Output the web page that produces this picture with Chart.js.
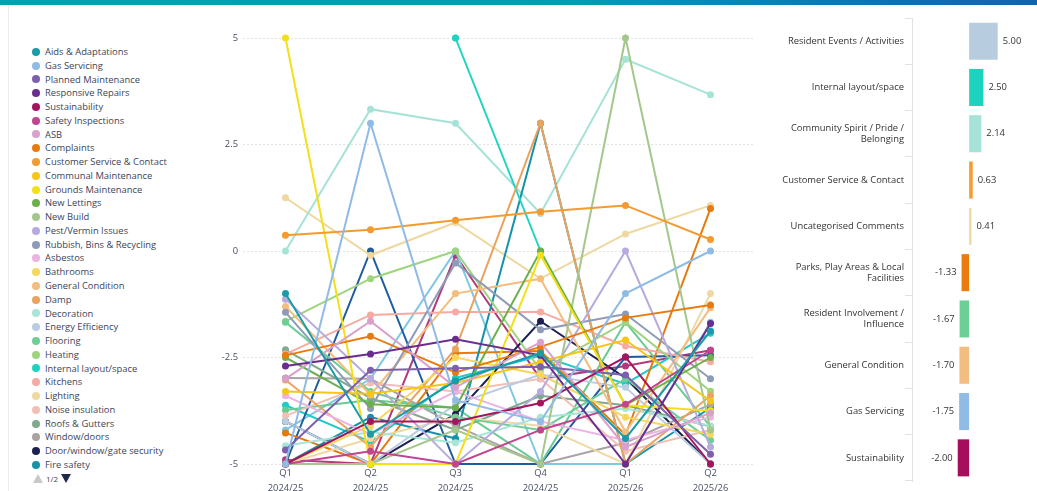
<!DOCTYPE html>
<html>
<head>
<meta charset="utf-8">
<script src="https://cdn.jsdelivr.net/npm/chart.js@4.4.1/dist/chart.umd.min.js"></script>
<style>
  body { margin: 0; width: 1037px; height: 491px; position: relative; overflow: hidden; background: #fff; font-family: 'Open Sans', sans-serif; }
  #topbar { position: absolute; left: 0; top: 0; width: 1037px; height: 5px; background: linear-gradient(to right, #00a4ae 0%, #009fb0 55%, #0b73b5 85%, #1960ad 100%); }
  #edge { position: absolute; left: 8px; top: 5px; width: 1px; height: 486px; background: #ececec; }
  #legend { position: absolute; left: 32px; top: 45px; width: 170px; }
  .leg-item { height: 13.77px; line-height: 13.77px; font-size: 9.4px; color: #3d4459; white-space: nowrap; display: flex; align-items: center; }
  .leg-dot { width: 8px; height: 8px; border-radius: 50%; margin-right: 5px; flex: none; }
  #pager { position: absolute; left: 33px; top: 473px; font-size: 8px; color: #3d4459; display: flex; align-items: center; }
  .tri-up { width: 0; height: 0; border-left: 5px solid transparent; border-right: 5px solid transparent; border-bottom: 9px solid #c9c9c9; margin-right: 3px; }
  .tri-down { width: 0; height: 0; border-left: 5px solid transparent; border-right: 5px solid transparent; border-top: 9px solid #1d2a4a; margin-left: 3px; }
  #lineWrap { position: absolute; left: 200px; top: 20px; }
  #barWrap { position: absolute; left: 760px; top: 0; }
</style>
</head>
<body>
<div id="topbar"></div>
<div id="edge"></div>
<div id="legend"></div>
<div id="pager"><div class="tri-up"></div><span>1/2</span><div class="tri-down"></div></div>
<div id="lineWrap"><canvas id="lineChart" width="557" height="471"></canvas></div>
<div id="barWrap"><canvas id="barChart" width="277" height="491"></canvas></div>

<script>
// quarters on the x axis
const quarters = [['Q1', '2024/25'], ['Q2', '2024/25'], ['Q3', '2024/25'], ['Q4', '2024/25'], ['Q1', '2025/26'], ['Q2', '2025/26']];

const seriesNames = [
  'Aids & Adaptations', 'Gas Servicing', 'Planned Maintenance', 'Responsive Repairs', 'Sustainability',
  'Safety Inspections', 'ASB', 'Complaints', 'Customer Service & Contact', 'Communal Maintenance',
  'Grounds Maintenance', 'New Lettings', 'New Build', 'Pest/Vermin Issues', 'Rubbish, Bins & Recycling',
  'Asbestos', 'Bathrooms', 'General Condition', 'Damp', 'Decoration',
  'Energy Efficiency', 'Flooring', 'Heating', 'Internal layout/space', 'Kitchens',
  'Lighting', 'Noise insulation', 'Roofs & Gutters', 'Window/doors', 'Door/window/gate security',
  'Fire safety',
  // page 2 of the legend
  'Parks, Play Areas & Local Facilities', 'Resident Involvement / Influence', 'Resident Events / Activities',
  'Community Spirit / Pride / Belonging', 'Uncategorised Comments', 'Estate Services',
  'Rent & Service Charges', 'Communication', 'Value for Money'
];

// one row per series: Q1 24/25 .. Q2 25/26
const seriesValues = [
  [-1.0, -4.3, -3.05, -2.4, -4.4, -1.88],
  [-5, 3.0, -3.5, -4.0, -1.0, 0],
  [-4.67, -2.8, -2.75, -2.72, -2.91, -4.77],
  [-2.7, -2.42, -2.07, -2.45, -5, -1.7],
  [-5, -4.0, -4.0, -3.57, -2.49, -5],
  [-5, -4.7, -5, -4.2, -3.6, -2.33],
  [-3.0, -1.65, -3.2, -2.14, -4.6, -3.8],
  [-2.45, -2.0, -2.85, -2.25, -1.57, -1.27],
  [0.37, 0.5, 0.72, 0.92, 1.07, 0.27],
  [-3.3, -3.35, -3.1, -2.6, -2.09, -3.52],
  [5, -5, -5, -0.1, -3.62, -3.75],
  [-2.5, -3.6, -3.68, 0, -3.62, -2.5],
  [-5, -5, -4.2, -5, 5, -4.2],
  [-1.13, -3.0, -5, -3.3, 0, -4.6],
  [-1.44, -3.7, -0.28, -1.85, -1.48, -3.0],
  [-3.4, -4.3, -3.3, -4.0, -4.44, -3.9],
  [-5, -4.1, -2.5, -2.9, -3.9, -4.3],
  [-1.3, -3.38, -1.0, -0.65, -4.25, -1.33],
  [-3.03, -4.6, -2.3, 3.0, -5, -3.4],
  [-4.57, -4.25, -4.5, -3.9, -3.7, -4.1],
  [-4.0, -5, -3.6, -2.9, -3.2, -5],
  [-1.67, -3.3, -3.9, -4.2, -3.0, -4.44],
  [-1.65, -0.65, 0, -2.8, -1.67, -3.29],
  [null, null, 5, 0, null, null],
  [-2.42, -1.5, -1.43, -1.43, -2.23, -2.6],
  [-5, -4.4, -3.9, -4.1, -5, -1.0],
  [-3.87, -3.1, -3.3, -3.0, -4.7, -4.2],
  [-2.32, -3.45, -4.2, -3.4, -3.62, -4.12],
  [-2.98, -3.0, -4.1, -5, -4.5, -3.6],
  [-4.0, -5, -3.83, -1.65, -2.98, -5],
  [-5, -3.9, -4.4, 3.0, -5, -3.68],
  [-4.27, -5, -2.4, -2.35, -4.32, 1.0],
  [-3.73, -3.5, -3.68, -5, -1.67, -4.12],
  [null, null, 5, null, null, null],
  [0, 3.33, 3.0, 0.88, 4.5, 3.67],
  [1.25, -0.1, 0.67, -0.65, 0.4, 1.07],
  [-5, 0, -5, -5, -2.49, -2.45],
  [-3.62, -4.48, -2.98, -2.46, -3.12, -1.93],
  [-4.2, -3.0, 0, -5, -5, -1.67],
  [-4.9, -5, -0.1, -3.0, -2.7, -2.33]
];

const seriesColors = [
  '#1a9ba8', '#8fbbe5', '#7d5fad', '#6a2d8f', '#a3155f',
  '#c2448f', '#d9a0cc', '#e77b10', '#f39a30', '#f5c518',
  '#f4e01a', '#6bb04a', '#a5c78c', '#b7aadf', '#8e9bb6',
  '#eeb2e2', '#f6d65c', '#f4bd7e', '#e8a35f', '#a8e4d8',
  '#b9cde2', '#6dce98', '#9fd47e', '#1fd3c1', '#f7a9a2',
  '#efd9a3', '#f2c0b2', '#80a98f', '#a9a3a3', '#1c2050',
  '#1592a8',
  '#e67a0c', '#67cb92', '#b8cce0', '#a6e3d7', '#efd8a0',
  '#1f5c9e', '#22c9c9', '#7fc7e3', '#b03a7c'
];

const legendPageSize = 31;

// right hand ranking
const barLabels = [
  'Resident Events / Activities', 'Internal layout/space', ['Community Spirit / Pride /', 'Belonging'],
  'Customer Service & Contact', 'Uncategorised Comments', ['Parks, Play Areas & Local', 'Facilities'],
  ['Resident Involvement /', 'Influence'], 'General Condition', 'Gas Servicing', 'Sustainability'
];
const barValues = [5.00, 2.50, 2.14, 0.63, 0.41, -1.33, -1.67, -1.70, -1.75, -2.00];
const barColors = ['#b8cce0', '#1dd3c0', '#a6e3d7', '#f39c33', '#f0d9a0', '#e87d0d', '#6ccf96', '#f3bd7f', '#8fbbe5', '#a50e5c'];

const fontFamily = "'Open Sans', sans-serif";
const textColor = '#4a5062';

// legend (first page only)
const legendEl = document.getElementById('legend');
seriesNames.slice(0, legendPageSize).forEach((name, i) => {
  const item = document.createElement('div');
  item.className = 'leg-item';
  const dot = document.createElement('span');
  dot.className = 'leg-dot';
  dot.style.background = seriesColors[i];
  item.appendChild(dot);
  item.appendChild(document.createTextNode(name));
  legendEl.appendChild(item);
});

new Chart(document.getElementById('lineChart'), {
  type: 'line',
  data: {
    labels: quarters,
    datasets: seriesNames.map((name, i) => ({
      label: name,
      data: seriesValues[i],
      borderColor: seriesColors[i],
      backgroundColor: seriesColors[i],
      pointBackgroundColor: seriesColors[i],
      borderWidth: 2,
      pointRadius: 3.5,
      pointBorderWidth: 0,
      tension: 0,
      clip: 6
    }))
  },
  options: {
    responsive: false,
    animation: false,
    events: [],
    layout: { padding: { top: 18, left: 0, right: 0, bottom: 0 } },
    plugins: { legend: { display: false }, tooltip: { enabled: false } },
    scales: {
      x: {
        offset: true,
        grid: { display: false, drawTicks: false },
        border: { display: false },
        ticks: { color: textColor, font: { size: 9.4, family: fontFamily, lineHeight: 1.55 }, padding: 2, maxRotation: 0 },
        afterFit: (scale) => { scale.height = 27; }
      },
      y: {
        min: -5,
        max: 5,
        grid: { color: '#e3e3e3', drawTicks: false },
        border: { display: false, dash: [2, 2] },
        ticks: { stepSize: 2.5, color: textColor, font: { size: 9.4, family: fontFamily }, padding: 5 },
        afterFit: (scale) => { scale.width = 43; }
      }
    }
  }
});

const valueLabels = {
  id: 'valueLabels',
  afterDatasetsDraw(chart) {
    const ctx = chart.ctx;
    const meta = chart.getDatasetMeta(0);
    ctx.save();
    ctx.font = '9.4px ' + fontFamily;
    ctx.fillStyle = '#333';
    ctx.textBaseline = 'middle';
    meta.data.forEach((bar, i) => {
      const v = barValues[i];
      if (v >= 0) {
        ctx.textAlign = 'left';
        ctx.fillText(v.toFixed(2), bar.x + 5, bar.y);
      } else {
        ctx.textAlign = 'right';
        ctx.fillText(v.toFixed(2), bar.x - 5, bar.y);
      }
    });
    ctx.restore();
  }
};

new Chart(document.getElementById('barChart'), {
  type: 'bar',
  data: {
    labels: barLabels,
    datasets: [{
      data: barValues,
      backgroundColor: barColors,
      categoryPercentage: 1,
      barPercentage: 0.8
    }]
  },
  options: {
    indexAxis: 'y',
    responsive: false,
    animation: false,
    events: [],
    layout: { padding: { top: 18, bottom: 10, right: 5, left: 0 } },
    plugins: { legend: { display: false }, tooltip: { enabled: false } },
    scales: {
      x: { display: false, min: -10, max: 11 },
      y: {
        grid: { drawOnChartArea: false, tickLength: 7, color: '#e2e2e2' },
        border: { display: true, color: '#e2e2e2' },
        ticks: { color: '#333', font: { size: 9.4, family: fontFamily }, padding: 1 },
        afterFit: (scale) => { scale.width = 152; }
      }
    }
  },
  plugins: [valueLabels]
});
</script>
</body>
</html>
